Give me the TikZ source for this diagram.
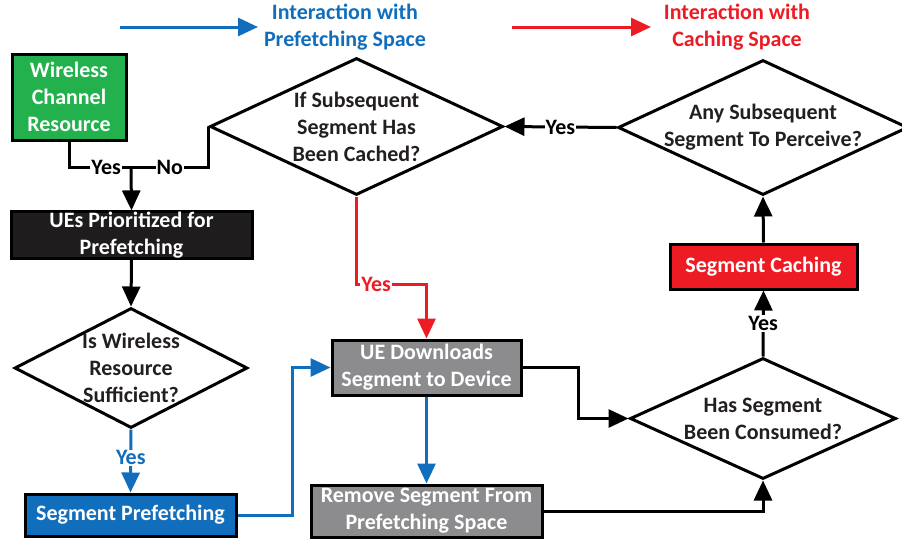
\documentclass[tikz,border=0pt]{standalone}
\usepackage{fontspec}
\setmainfont{Carlito}
\usetikzlibrary{shapes.geometric,arrows.meta}
\definecolor{resgreen}{RGB}{34,177,76}
\definecolor{prefblue}{RGB}{17,110,189}
\definecolor{cachered}{RGB}{237,28,36}
\definecolor{boxgray}{RGB}{140,140,142}
\definecolor{boxblack}{RGB}{30,28,28}
\definecolor{txtdark}{RGB}{35,31,32}

\begin{document}
\begin{tikzpicture}[x=1pt,y=-1pt,
	every node/.style={font=\fontsize{22}{27}\selectfont\bfseries},
	box/.style={draw=black,line width=3pt,text=white,align=center,inner sep=0pt},
	decision/.style={diamond,draw=black,line width=3pt,inner sep=0pt},
	link/.style={line width=3pt,-{Triangle[length=20pt,width=18pt]}},
	tag/.style={fill=white,inner sep=1pt}]
			\useasboundingbox (0,0) rectangle (902,544);
			% legend
			\coordinate (lb1) at (120,27); \coordinate (lb2) at (258,27);
			\coordinate (lr1) at (512,27); \coordinate (lr2) at (651,27);
			\draw[link,color=prefblue] (lb1) -- (lb2);
			\draw[link,color=cachered] (lr1) -- (lr2);
			\node[align=center,text=prefblue] (legpref) at (345,27) {Interaction with\\Prefetching Space};
			\node[align=center,text=cachered] (legcache) at (737,27) {Interaction with\\Caching Space};
			% boxes
			\node[box,fill=resgreen,minimum width=114pt,minimum height=86pt] (res) at (69,97) {Wireless\\Channel\\Resource};
			\node[box,fill=boxblack,minimum width=241pt,minimum height=46pt] (prio) at (131.5,235) {UEs Prioritized for\\Prefetching};
			\node[box,fill=prefblue,minimum width=211pt,minimum height=42pt] (pref) at (130.5,515) {Segment Prefetching};
			\node[box,fill=boxgray,minimum width=189pt,minimum height=55pt] (dl) at (426.5,367.5) {UE Downloads\\Segment to Device};
			\node[box,fill=boxgray,minimum width=231pt,minimum height=52pt] (rm) at (426.5,511) {Remove Segment From\\Prefetching Space};
			\node[box,fill=cachered,minimum width=187pt,minimum height=45pt] (cache) at (763.5,266.5) {Segment Caching};
			% decisions
			\node[decision,minimum width=233pt,minimum height=120pt,label={[align=center,text=txtdark]center:{Is Wireless\\Resource\\Sufficient?}}] (qres) at (131,368) {};
			\node[decision,minimum width=293pt,minimum height=137pt,label={[align=center,text=txtdark]center:{If Subsequent\\Segment Has\\Been Cached?}}] (qcached) at (356.5,126.5) {};
			\node[decision,minimum width=290pt,minimum height=135pt,label={[align=center,text=txtdark]center:{Any Subsequent\\Segment To Perceive?}}] (qnext) at (763,127.5) {};
			\node[decision,minimum width=266pt,minimum height=121pt,label={[align=center,text=txtdark]center:{Has Segment\\Been Consumed?}}] (qused) at (763,418.5) {};
			% connectors
			\coordinate (join) at (131,167);
			\draw[line width=3pt] (res.south) |- (join) node[tag,pos=0.8] {Yes};
			\draw[line width=3pt] (qcached.west) |- (join) node[tag,pos=0.75] {No};
			\draw[link] (join) -- (prio.north);
			\draw[link] (prio.south) -- (qres.north);
			\draw[link,color=prefblue] (qres.south) -- (pref.north) node[tag,pos=0.45,text=prefblue] {Yes};
			\draw[link,color=prefblue] (pref.east) -- ++(55,0) |- (dl.west);
			\draw[link,color=prefblue] (dl.south) -- (rm.north);
			\draw[link,color=cachered] (qcached.south) -- ++(0,88) -| (dl.north) node[tag,pos=0.14,text=cachered] {Yes};
			\draw[link] (qnext.west) -- (qcached.east) node[tag,midway] {Yes};
			\draw[link] (cache.north) -- (qnext.south);
			\draw[link] (qused.north) -- (cache.south) node[tag,midway] {Yes};
			\draw[link] (dl.east) -- ++(56,0) |- (qused.west);
			\draw[link] (rm.east) -| (qused.south);
\end{tikzpicture}
\end{document}
